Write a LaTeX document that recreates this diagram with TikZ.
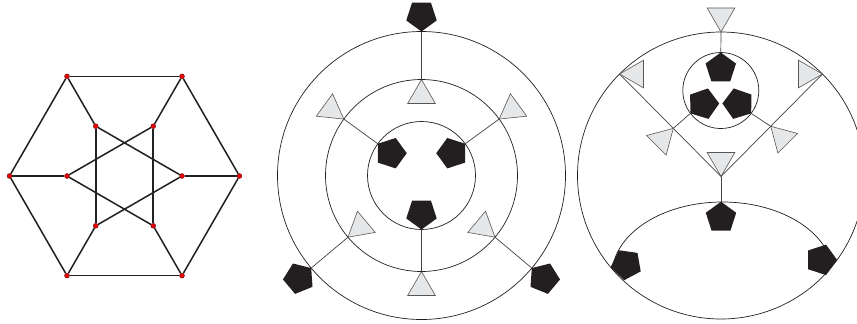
\documentclass[tikz,border=0pt]{standalone}
\definecolor{inkblack}{RGB}{35,31,32}
\definecolor{tripale}{RGB}{230,231,232}
\definecolor{trigray}{RGB}{85,85,85}
\definecolor{dotred}{RGB}{228,0,0}
\definecolor{dotrim}{RGB}{110,20,20}
\definecolor{edgegray}{RGB}{34,34,34}
\usetikzlibrary{shapes.geometric, calc}
\tikzset{
	vertex/.style={circle, fill=dotred, draw=dotrim, line width=0.3pt, inner sep=0pt, minimum size=0.15cm},
	edge/.style={draw=edgegray, line width=1.3pt},
	pent/.style={regular polygon, regular polygon sides=5, fill=inkblack, draw=none, inner sep=0pt, outer sep=0pt, minimum size=0.96cm, anchor=corner 1},
	tri/.style={regular polygon, regular polygon sides=3, fill=tripale, draw=trigray, line width=0.5pt, inner sep=0pt, outer sep=0pt, minimum size=0.96cm, anchor=corner 1},
	ring/.style={draw=inkblack, line width=0.6pt},
	link/.style={draw=inkblack!85, line width=0.6pt},
}

\begin{document}
\begin{tikzpicture}[x=0.03cm, y=0.03cm]
	\useasboundingbox (0,0) rectangle (857,-323);
	\clip (0,0) rectangle (857,-323);
	% left: the graph
	\begin{scope}[shift={(124.5,-176)}]
		\node[vertex] (o0) at (0:115) {};
		\node[vertex] (o1) at (60:115) {};
		\node[vertex] (o2) at (120:115) {};
		\node[vertex] (o3) at (180:115) {};
		\node[vertex] (o4) at (240:115) {};
		\node[vertex] (o5) at (300:115) {};
		\node[vertex] (i0) at (0:57.5) {};
		\node[vertex] (i1) at (60:57.5) {};
		\node[vertex] (i2) at (120:57.5) {};
		\node[vertex] (i3) at (180:57.5) {};
		\node[vertex] (i4) at (240:57.5) {};
		\node[vertex] (i5) at (300:57.5) {};
		\draw[edge] (o0) -- (o1);
		\draw[edge] (o1) -- (o2);
		\draw[edge] (o2) -- (o3);
		\draw[edge] (o3) -- (o4);
		\draw[edge] (o4) -- (o5);
		\draw[edge] (o5) -- (o0);
		\draw[edge] (o0) -- (i0);
		\draw[edge] (o1) -- (i1);
		\draw[edge] (o2) -- (i2);
		\draw[edge] (o3) -- (i3);
		\draw[edge] (o4) -- (i4);
		\draw[edge] (o5) -- (i5);
		\draw[edge] (i0) -- (i2);
		\draw[edge] (i1) -- (i3);
		\draw[edge] (i2) -- (i4);
		\draw[edge] (i3) -- (i5);
		\draw[edge] (i4) -- (i0);
		\draw[edge] (i5) -- (i1);
	\end{scope}
	% middle: three rings
	\begin{scope}[shift={(421.5,-175.5)}]
		\draw[ring] (0,0) circle (144);
		\draw[ring] (0,0) circle (96);
		\draw[ring] (0,0) circle (54);
		\node[pent, rotate=54] (inUL) at (144:54) {};
		\node[pent, rotate=-54] (inUR) at (36:54) {};
		\node[pent, rotate=180] (inB) at (270:54) {};
		\node[tri, rotate=234] (midUL) at (144:96) {};
		\node[tri, rotate=126] (midUR) at (36:96) {};
		\node[tri, rotate=0] (midB) at (270:96) {};
		\node[tri, rotate=0] (midT) at (90:96) {};
		\node[tri, rotate=130] (midLL) at (220:96) {};
		\node[tri, rotate=230] (midLR) at (320:96) {};
		\node[pent, rotate=180] (outT) at (90:144) {};
		\node[pent, rotate=310] (outLL) at (220:144) {};
		\node[pent, rotate=50] (outLR) at (320:144) {};
		\draw[link] (inUL.corner 1) -- (midUL.corner 1);
		\draw[link] (inUR.corner 1) -- (midUR.corner 1);
		\draw[link] (inB.corner 1) -- (midB.corner 1);
		\draw[link] (midT.corner 1) -- (outT.corner 1);
		\draw[link] (midLL.corner 1) -- (outLL.corner 1);
		\draw[link] (midLR.corner 1) -- (outLR.corner 1);
	\end{scope}
	% right: disc with small ring and lower arc
	\begin{scope}[shift={(721,-175.5)}]
		\draw[ring] (0,0) circle (143.5);
		\draw[ring] (-0.2,85) circle (38);
		\begin{scope}
			\clip (0,0) circle (143.5);
			\draw[ring] (1.5,-99.5) ellipse (110.5 and 73);
		\end{scope}
		\node[tri, rotate=180] (rTop) at (90:143.5) {};
		\node[tri, rotate=90] (rUL) at (135:143.5) {};
		\node[tri, rotate=-90] (rUR) at (45:143.5) {};
		\node[tri, rotate=180] (rMid) at (0,-1) {};
		\node[pent] (rCore) at (0,-26.2) {};
		\node[pent] (sTop) at ($(-0.2,85)+(90:38)$) {};
		\node[pent, rotate=127] (sL) at ($(-0.2,85)+(217:38)$) {};
		\node[pent, rotate=233] (sR) at ($(-0.2,85)+(323:38)$) {};
		\node[pent, rotate=100] (bL) at (219.7:143.5) {};
		\node[pent, rotate=-90] (bR) at (-36:143.5) {};
		\coordinate (jL) at ($(rUL.corner 1)!0.53!(rMid.corner 1)$);
		\coordinate (jR) at ($(rUR.corner 1)!0.51!(rMid.corner 1)$);
		\draw[link] (rTop.corner 1) -- (sTop.corner 1);
		\draw[link] (rUL.corner 1) -- (rMid.corner 1);
		\draw[link] (rUR.corner 1) -- (rMid.corner 1);
		\draw[link] (rMid.corner 1) -- (rCore.corner 1);
		\draw[link] (sL.corner 1) -- (jL);
		\draw[link] (sR.corner 1) -- (jR);
		\node[tri, rotate=-45] (tL) at (jL) {};
		\node[tri, rotate=45] (tR) at (jR) {};
	\end{scope}
\end{tikzpicture}
\end{document}
